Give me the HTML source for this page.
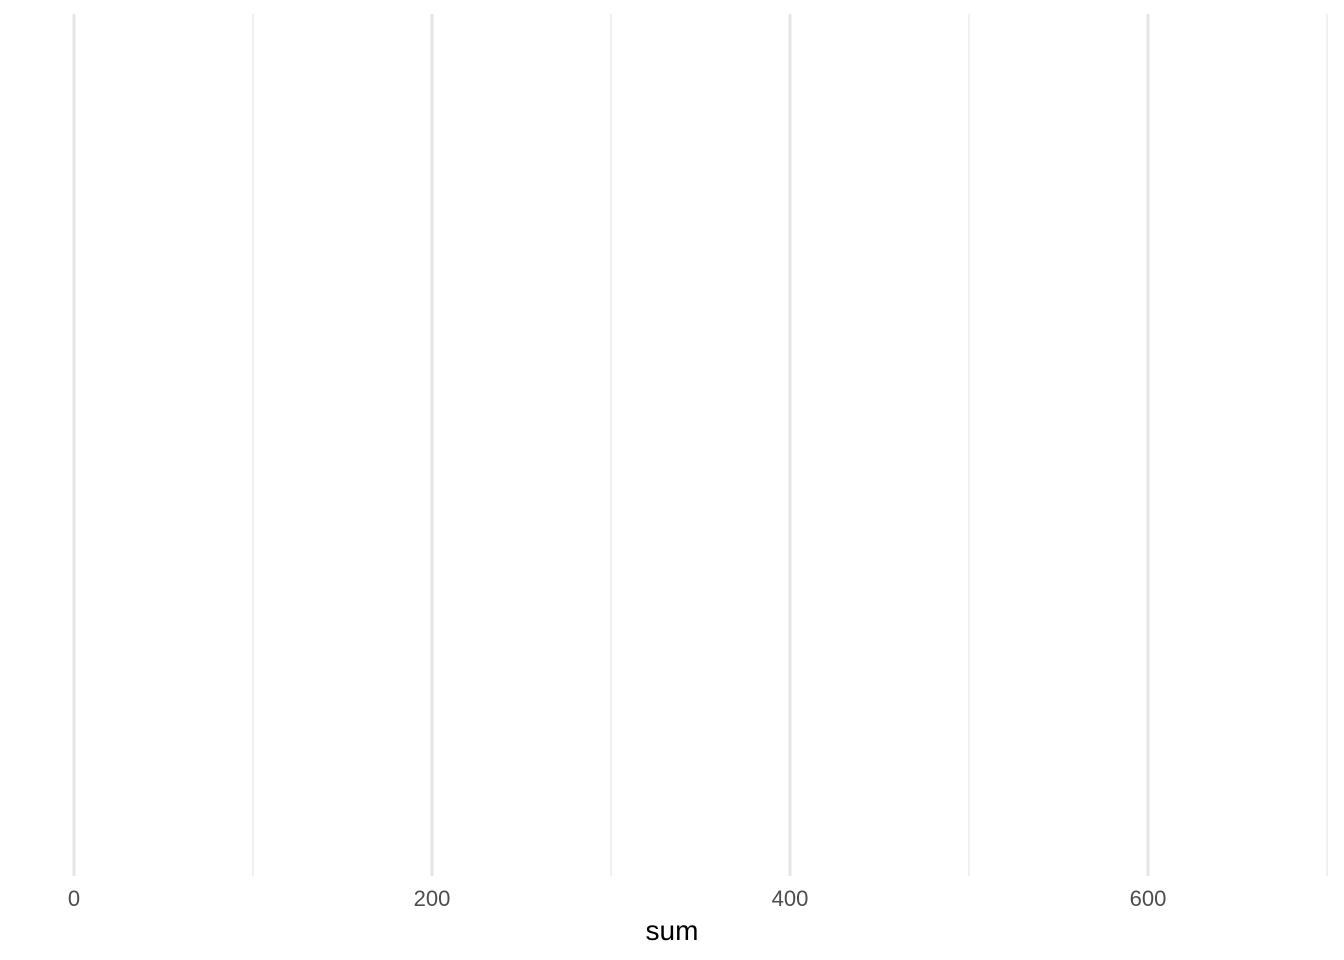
<!DOCTYPE html>
<html>
<head>
<meta charset="utf-8">
<style>
html,body{margin:0;padding:0;background:#fff;}
svg{display:block;font-family:"Liberation Sans",Arial,sans-serif;}
</style>
</head>
<body>
<svg id="chart" width="1344" height="960">
  <g id="grid"></g>
  <g id="ticks"></g>
  <text x="672" y="940" text-anchor="middle" font-size="28" fill="#000">sum</text>
</svg>
<script>
const majorTicks = [0, 200, 400, 600];
const minorTicks = [100, 300, 500, 700];
const tickLabels = ["0", "200", "400", "600"];

const x0 = 74, pxPerUnit = 1.79;
function xScale(v){ return x0 + v * pxPerUnit; }
const ns = "http://www.w3.org/2000/svg";
const grid = document.getElementById('grid');
const ticks = document.getElementById('ticks');

minorTicks.forEach(v => {
  const l = document.createElementNS(ns, 'line');
  l.setAttribute('x1', xScale(v)); l.setAttribute('x2', xScale(v));
  l.setAttribute('y1', 14); l.setAttribute('y2', 876);
  l.setAttribute('stroke', '#ebebeb'); l.setAttribute('stroke-width', '1.5');
  
  
  grid.appendChild(l);
});
majorTicks.forEach((v, i) => {
  const l = document.createElementNS(ns, 'line');
  l.setAttribute('x1', xScale(v)); l.setAttribute('x2', xScale(v));
  l.setAttribute('y1', 14); l.setAttribute('y2', 876);
  l.setAttribute('stroke', '#e5e5e5'); l.setAttribute('stroke-width', '3');
  
  
  grid.appendChild(l);
  const t = document.createElementNS(ns, 'text');
  t.setAttribute('x', xScale(v)); t.setAttribute('y', 906);
  t.setAttribute('text-anchor', 'middle'); t.setAttribute('font-size', '22');
  t.setAttribute('fill', '#4d4d4d');
  
  
  t.textContent = tickLabels[i];
  ticks.appendChild(t);
});
</script>
</body>
</html>
